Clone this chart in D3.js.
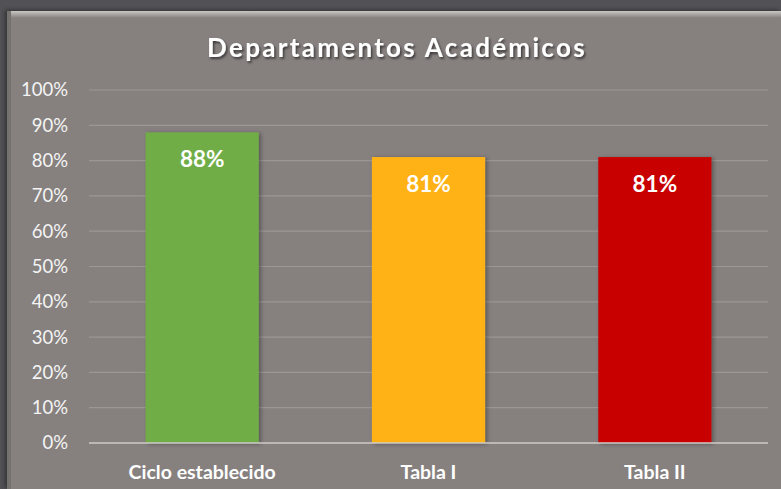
<!DOCTYPE html>
<html>
<head>
<meta charset="utf-8">
<script src="https://cdn.jsdelivr.net/npm/d3@7"></script>
<style>
  html, body { margin: 0; padding: 0; background: #525256; }
  svg { display: block; font-family: Lato, "Open Sans", sans-serif; }
</style>
</head>
<body>
<div id="chart"></div>
<script>
// chart data
const categories = ["Ciclo establecido", "Tabla I", "Tabla II"];
const values = [0.88, 0.81, 0.81];
const barColors = ["#70ad47", "#ffb218", "#c80000"];
const tickValues = [0, 0.1, 0.2, 0.3, 0.4, 0.5, 0.6, 0.7, 0.8, 0.9, 1.0];
const chartTitle = "Departamentos Académicos";

const W = 781, H = 489;
const margin = {top: 90, right: 13, bottom: 46, left: 89};

const svg = d3.select("#chart").append("svg")
    .attr("width", W)
    .attr("height", H);

const defs = svg.append("defs");

// shadow for bars and title
const sh = defs.append("filter").attr("id", "barShadow")
    .attr("x", "-10%").attr("y", "-10%").attr("width", "130%").attr("height", "130%");
sh.append("feDropShadow").attr("dx", 2).attr("dy", 1).attr("stdDeviation", 2)
    .attr("flood-color", "#000").attr("flood-opacity", 0.35);

const tsh = defs.append("filter").attr("id", "titleShadow");
tsh.append("feDropShadow").attr("dx", 1.5).attr("dy", 2).attr("stdDeviation", 1.2)
    .attr("flood-color", "#000").attr("flood-opacity", 0.55);

const panelShadow = defs.append("filter").attr("id", "panelShadow")
    .attr("x", "-5%").attr("y", "-5%").attr("width", "110%").attr("height", "110%");
panelShadow.append("feDropShadow").attr("dx", -2).attr("dy", -1).attr("stdDeviation", 2)
    .attr("flood-color", "#000").attr("flood-opacity", 0.4);

// bevel gradient for panel top edge
const grad = defs.append("linearGradient").attr("id", "bevelTop")
    .attr("x1", 0).attr("y1", 0).attr("x2", 0).attr("y2", 1);
grad.append("stop").attr("offset", "0%").attr("stop-color", "#c9c6c4");
grad.append("stop").attr("offset", "100%").attr("stop-color", "#86817f");

// background panel
svg.append("rect")
    .attr("x", 7).attr("y", 11)
    .attr("width", W - 7).attr("height", H - 11)
    .attr("fill", "#86817f")
    .attr("filter", "url(#panelShadow)");
svg.append("rect")
    .attr("x", 7).attr("y", 11)
    .attr("width", W - 7).attr("height", 7)
    .attr("fill", "url(#bevelTop)");
svg.append("rect")
    .attr("x", 7).attr("y", 11)
    .attr("width", 4).attr("height", H - 11)
    .attr("fill", "#76726f");

// title
svg.append("text")
    .attr("x", 397).attr("y", 57)
    .attr("text-anchor", "middle")
    .attr("fill", "#ffffff")
    .attr("font-size", 26)
    .attr("font-weight", "bold")
    .attr("letter-spacing", 2.3)
    .attr("filter", "url(#titleShadow)")
    .text(chartTitle);

const innerW = W - margin.left - margin.right;
const innerH = 443 - margin.top;

const g = svg.append("g")
    .attr("transform", `translate(${margin.left},${margin.top})`);

const x = d3.scaleBand()
    .domain(categories)
    .range([0, innerW])
    .paddingInner(0.5)
    .paddingOuter(0.25);

const y = d3.scaleLinear()
    .domain([0, 1])
    .range([innerH, 0]);

// gridlines
g.append("g")
    .selectAll("line")
    .data(tickValues.filter(d => d > 0))
    .join("line")
    .attr("x1", 0).attr("x2", innerW)
    .attr("y1", d => y(d)).attr("y2", d => y(d))
    .attr("stroke", "#9b9794")
    .attr("stroke-width", 1.2);

// y axis
const yAxis = g.append("g")
    .call(d3.axisLeft(y).tickValues(tickValues).tickFormat(d3.format(".0%")).tickSize(0).tickPadding(21));
yAxis.select(".domain").remove();
yAxis.selectAll("text")
    .attr("fill", "#f4f4f4")
    .attr("font-size", 18.5)
    .style("font-family", "Lato, sans-serif");

// bars
g.selectAll(".bar")
    .data(values)
    .join("rect")
    .attr("class", "bar")
    .attr("x", (d, i) => x(categories[i]))
    .attr("y", d => y(d))
    .attr("width", x.bandwidth())
    .attr("height", d => innerH - y(d))
    .attr("fill", (d, i) => barColors[i])
    .attr("filter", "url(#barShadow)");

// baseline
g.append("line")
    .attr("x1", 0).attr("x2", innerW)
    .attr("y1", y(0)).attr("y2", y(0))
    .attr("stroke", "#cfcbc8")
    .attr("stroke-width", 1.5);

// value labels
g.selectAll(".val")
    .data(values)
    .join("text")
    .attr("class", "val")
    .attr("x", (d, i) => x(categories[i]) + x.bandwidth() / 2)
    .attr("y", d => y(d) + 35)
    .attr("text-anchor", "middle")
    .attr("fill", "#ffffff")
    .attr("font-size", 22.5)
    .attr("font-weight", "bold")
    .text(d => d3.format(".0%")(d));

// x axis
const xAxis = g.append("g")
    .attr("transform", `translate(0,${innerH})`)
    .call(d3.axisBottom(x).tickSize(0).tickPadding(18));
xAxis.select(".domain").remove();
xAxis.selectAll("text")
    .attr("fill", "#ffffff")
    .attr("font-size", 19.5)
    .attr("font-weight", "bold")
    .attr("dy", "0.9em")
    .style("font-family", "Lato, sans-serif");
</script>
</body>
</html>
